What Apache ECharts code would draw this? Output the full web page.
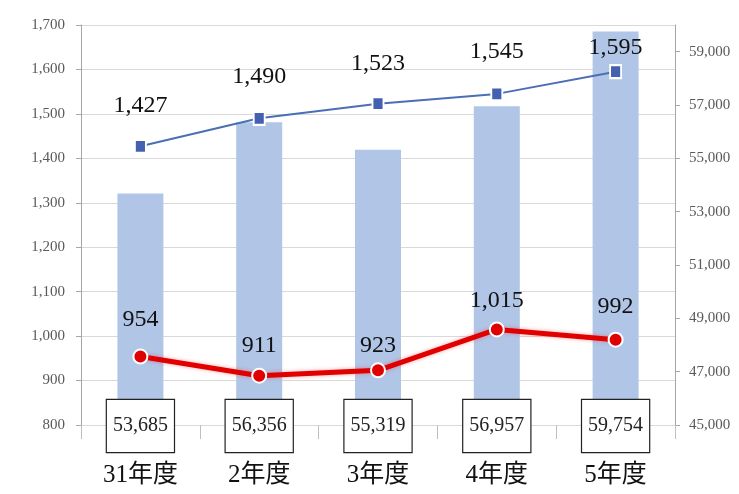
<!DOCTYPE html>
<html>
<head>
<meta charset="utf-8">
<script src="https://cdn.jsdelivr.net/npm/echarts@6/dist/echarts.min.js"></script>
<style>html,body{margin:0;padding:0;background:#fff;}#c{width:739px;height:494px;}</style>
</head>
<body>
<div id="c"></div>
<script>
const categories = ['31年度', '2年度', '3年度', '4年度', '5年度'];
const barValues = [53685, 56356, 55319, 56957, 59754];
const blueValues = [1427, 1490, 1523, 1545, 1595];
const redValues = [954, 911, 923, 1015, 992];
const rightTicks = [45000, 47000, 49000, 51000, 53000, 55000, 57000, 59000];

// label gaps (style only)
const blueLabelGap = [21, 22, 20, 23, 4];
const redLabelGap = [17, 10, 5, 9, 13];

const fmt = v => Number(v).toLocaleString('en-US');
const SERIF = '"Liberation Serif", "Noto Sans CJK JP", serif';

const chart = echarts.init(document.getElementById('c'));
chart.setOption({
  animation: false,
  backgroundColor: '#fff',
  grid: { left: 81, right: 64, top: 25, bottom: 69 },
  xAxis: {
    type: 'category',
    data: categories,
    axisLine: { show: true, lineStyle: { color: '#d9d9d9' } },
    axisTick: { show: true, length: 14, lineStyle: { color: '#bfbfbf' } },
    axisLabel: { fontFamily: SERIF, fontSize: 25, color: '#111', margin: 38 }
  },
  yAxis: [
    {
      type: 'value', min: 800, max: 1700, interval: 100,
      axisLine: { show: true, lineStyle: { color: '#a6a6a6' } },
      axisTick: { show: true, length: 5, lineStyle: { color: '#a6a6a6' } },
      axisLabel: { fontFamily: SERIF, fontSize: 15, color: '#595959', margin: 16, formatter: fmt },
      splitLine: { show: true, lineStyle: { color: '#d9d9d9' } }
    },
    {
      type: 'value', min: 45000, max: 60000, position: 'right',
      axisLine: { show: true, lineStyle: { color: '#a6a6a6' } },
      axisTick: { show: true, length: 5, customValues: rightTicks, lineStyle: { color: '#a6a6a6' } },
      axisLabel: { fontFamily: SERIF, fontSize: 15, color: '#595959', margin: 14, customValues: rightTicks, formatter: fmt },
      splitLine: { show: false }
    }
  ],
  series: [
    {
      type: 'bar', yAxisIndex: 1, data: barValues, barWidth: 46,
      itemStyle: { color: '#b1c5e6' },
      label: {
        show: true, position: 'insideBottom', distance: 0, offset: [0, 27],
        fontFamily: SERIF, fontSize: 20, lineHeight: 20, color: '#222',
        backgroundColor: '#fff', borderColor: '#222', borderWidth: 1.2,
        padding: [16, 6, 16, 6], formatter: p => fmt(p.value)
      },
      z: 1
    },
    {
      type: 'line', yAxisIndex: 0,
      data: blueValues.map((v, i) => ({ value: v, label: { distance: blueLabelGap[i] } })),
      symbol: 'rect', symbolSize: [11, 13],
      lineStyle: { color: '#4a6fb5', width: 2 },
      itemStyle: { color: '#4361b0', borderColor: '#fff', borderWidth: 2 },
      label: { show: true, position: 'top', fontFamily: SERIF, fontSize: 24, color: '#111', formatter: p => fmt(p.value) },
      z: 3
    },
    {
      type: 'line', yAxisIndex: 0,
      data: redValues.map((v, i) => ({ value: v, label: { distance: redLabelGap[i] } })),
      symbol: 'circle', symbolSize: 14,
      lineStyle: { color: '#e00000', width: 5, shadowColor: 'rgba(255,0,0,0.35)', shadowBlur: 4 },
      itemStyle: { color: '#e00000', borderColor: '#fff', borderWidth: 2 },
      label: { show: true, position: 'top', fontFamily: SERIF, fontSize: 24, color: '#111', formatter: p => fmt(p.value) },
      z: 4
    }
  ]
});
</script>
</body>
</html>
